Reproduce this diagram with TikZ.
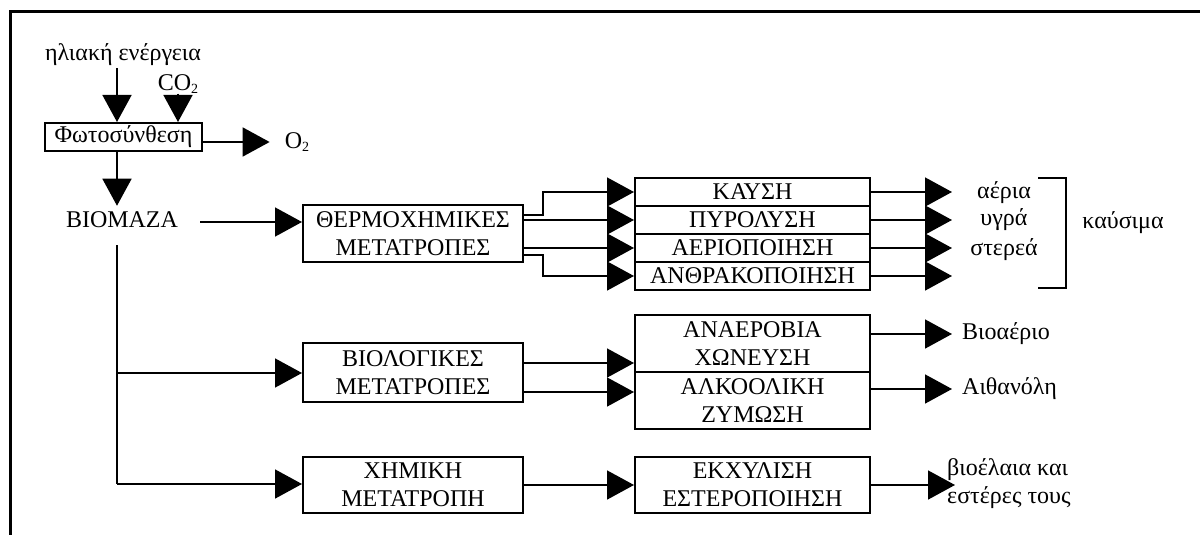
\documentclass[tikz,border=0pt]{standalone}
\usepackage{fontspec}
\setmainfont{Liberation Serif}
\usetikzlibrary{arrows.meta}
\newcommand{\subtwo}{\raisebox{-0.25ex}{\fontsize{14}{14}\selectfont 2}}
\begin{document}
\begin{tikzpicture}[x=1pt,y=-1pt,
  txt/.style={inner sep=0pt, font=\fontsize{24}{28}\selectfont},
  box/.style={draw, line width=2pt, inner sep=0pt, align=center, font=\fontsize{24}{28}\selectfont},
  rowbox/.style={box, minimum width=235pt, minimum height=28pt},
  ln/.style={line width=1.6pt},
  arr/.style={line width=1.6pt, -{Triangle[length=27pt,width=29pt]}}]
\useasboundingbox (0,0) rectangle (1200,535);
\draw[line width=3pt] (10,535) -- (10,12) -- (1200,12);

% top part
\node[txt] (sun) at (123,55) {ηλιακή ενέργεια};
\node[txt] (co2) at (178,84) {CO\subtwo};
\node[box, minimum width=157pt, minimum height=28pt] (foto) at (123.5,137) {Φωτοσύνθεση};
\node[txt] (o2) at (297,142) {O\subtwo};
\node[txt] (bio) at (122,220) {ΒΙΟΜΑΖΑ};

% process boxes
\node[box, minimum width=220pt, minimum height=57pt] (thermo) at (413,233.5) {ΘΕΡΜΟΧΗΜΙΚΕΣ\\ΜΕΤΑΤΡΟΠΕΣ};
\node[box, minimum width=220pt, minimum height=59pt] (biol) at (413,372.5) {ΒΙΟΛΟΓΙΚΕΣ\\ΜΕΤΑΤΡΟΠΕΣ};
\node[box, minimum width=220pt, minimum height=56pt] (chem) at (413,485) {ΧΗΜΙΚΗ\\ΜΕΤΑΤΡΟΠΗ};

\node[rowbox] (kaysi) at (752.5,192) {ΚΑΥΣΗ};
\node[rowbox] (pyro)  at (752.5,220) {ΠΥΡΟΛΥΣΗ};
\node[rowbox] (aerio) at (752.5,248) {ΑΕΡΙΟΠΟΙΗΣΗ};
\node[rowbox] (anthr) at (752.5,276) {ΑΝΘΡΑΚΟΠΟΙΗΣΗ};

\node[box, minimum width=235pt, minimum height=57pt] (anaer) at (752.5,343.5) {ΑΝΑΕΡΟΒΙΑ\\ΧΩΝΕΥΣΗ};
\node[box, minimum width=235pt, minimum height=57pt] (alco) at (752.5,400.5) {ΑΛΚΟΟΛΙΚΗ\\ΖΥΜΩΣΗ};
\node[box, minimum width=235pt, minimum height=56pt] (ekx) at (752.5,485) {ΕΚΧΥΛΙΣΗ\\ΕΣΤΕΡΟΠΟΙΗΣΗ};

% products
\node[txt] (aeria) at (1004,193) {αέρια};
\node[txt] (ygra) at (1004,220) {υγρά};
\node[txt] (sterea) at (1004,250) {στερεά};
\node[txt] (kaysima) at (1123,223) {καύσιμα};
\node[txt, anchor=west] (biogas) at (962,334) {Βιοαέριο};
\node[txt, anchor=west] (ethanol) at (962,389) {Αιθανόλη};
\node[txt, anchor=west, align=left] (oils) at (947,484) {βιοέλαια και\\εστέρες τους};

% bracket
\coordinate (br1) at (1038,178);
\coordinate (br2) at (1066,178);
\coordinate (br3) at (1066,288);
\coordinate (br4) at (1038,288);
\draw[ln] (br1) -- (br2) -- (br3) -- (br4);

\coordinate (tipx) at (952,0);
\coordinate (tipy) at (955,0);
\coordinate (t0) at (117,245);
\coordinate (t1) at (117,373);
\coordinate (t2) at (117,484);

% connectors top
\draw[arr] ([xshift=-6pt,yshift=-2pt]sun.south) -- ([xshift=-6.5pt]foto.north);
\draw[arr] (co2.south) -- (co2.south |- foto.north);
\draw[arr] (foto.east |- o2) -- ([xshift=-15pt]o2.west);
\draw[arr] ([xshift=-6.5pt]foto.south) -- ([xshift=-5pt,yshift=6pt]bio.north);
\draw[arr] ([xshift=22pt,yshift=-2pt]bio.east) -- ([yshift=11.5pt]thermo.west);

% trunk
\draw[ln] (t0) -- (t2);
\draw[arr] (t1) -- (t1 -| biol.west);
\draw[arr] (t2) -- (t2 -| chem.west);

% thermochemical fan
\draw[arr] ([yshift=18.5pt]thermo.east) -- ++(19,0) |- (kaysi.west);
\draw[arr] ([yshift=13.5pt]thermo.east) -- (pyro.west);
\draw[arr] ([yshift=-14.5pt]thermo.east) -- (aerio.west);
\draw[arr] ([yshift=-21.5pt]thermo.east) -- ++(19,0) |- (anthr.west);
\foreach \n in {kaysi,pyro,aerio,anthr}
  \draw[arr] (\n.east) -- (\n.east -| tipx);

% biological
\draw[arr] ([yshift=9.5pt]biol.east) -- ([yshift=9.5pt]biol.east -| anaer.west);
\draw[arr] ([yshift=-19.5pt]biol.east) -- ([yshift=-19.5pt]biol.east -| alco.west);
\draw[arr] ([yshift=9.5pt]anaer.east) -- ([yshift=9.5pt]anaer.east -| tipx);
\draw[arr] ([yshift=11.5pt]alco.east) -- ([yshift=11.5pt]alco.east -| tipx);

% chemical
\draw[arr] (chem.east) -- (ekx.west);
\draw[arr] (ekx.east) -- (ekx.east -| tipy);
\end{tikzpicture}
\end{document}
